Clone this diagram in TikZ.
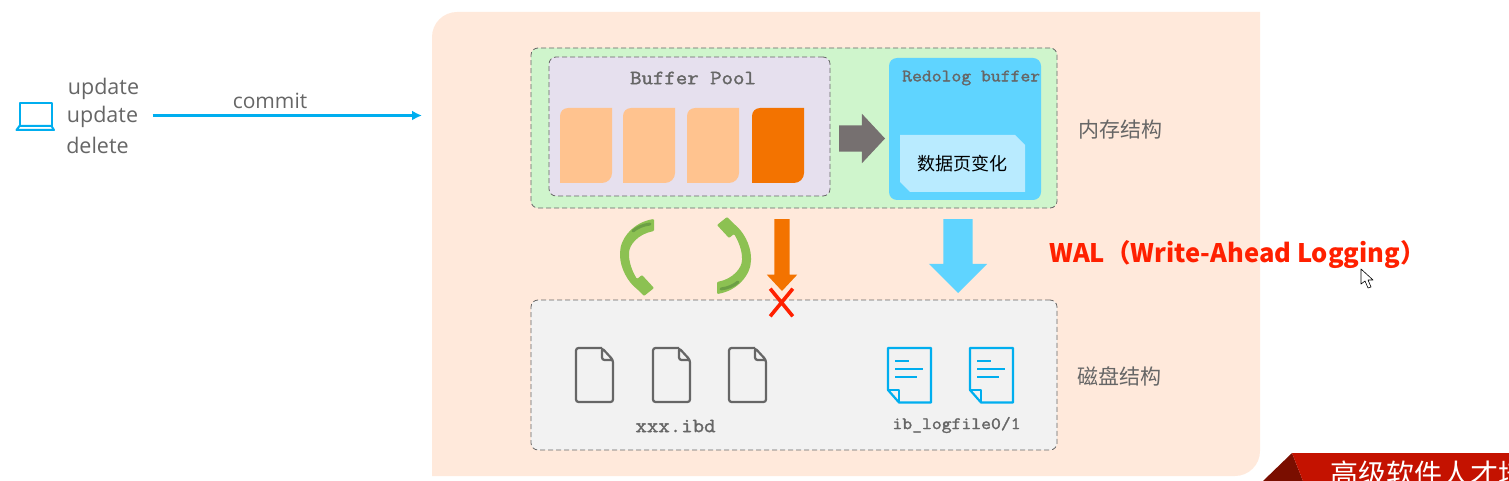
\documentclass[tikz,border=0pt]{standalone}
\usepackage{xcolor}
\usepackage{fontspec}
\usepackage{tikz}
\setmainfont{Open Sans}
\newfontfamily\cjkfont{Noto Sans CJK SC}
\newfontfamily\slabfont[AutoFakeBold=1.6,FakeStretch=1.1]{Latin Modern Mono}
\usetikzlibrary{shapes, shapes.misc, shapes.arrows, arrows.meta, positioning}

\definecolor{peach}{HTML}{FFE9DB}
\definecolor{memgreen}{HTML}{CFF5CC}
\definecolor{poolpurple}{HTML}{E6E0EE}
\definecolor{pagepale}{HTML}{FFC38F}
\definecolor{pagedeep}{HTML}{F37300}
\definecolor{arrowgrey}{HTML}{767070}
\definecolor{logblue}{HTML}{5FD4FF}
\definecolor{logpale}{HTML}{B9EBFF}
\definecolor{linkblue}{HTML}{00AEEF}
\definecolor{turngreen}{HTML}{8CC152}
\definecolor{turndark}{HTML}{6C9F45}
\definecolor{textgrey}{HTML}{666666}
\definecolor{alertred}{HTML}{FF2000}
\definecolor{bannerred}{HTML}{C41200}
\definecolor{bannerdark}{HTML}{7A0E00}

\tikzset{
  dashbox/.style={draw=textgrey,dash pattern=on 5pt off 3pt,rounded corners=7pt,line width=0.8pt,inner sep=0pt},
  blockarrow/.style={single arrow,inner xsep=0pt,outer sep=0pt,anchor=tip,rotate=-90},
  sidelabel/.style={font=\cjkfont\fontsize{21}{25}\selectfont,text=textgrey},
  cmdlabel/.style={font=\fontsize{21.5}{26}\selectfont,text=textgrey},
  slablabel/.style={font=\slabfont\bfseries\fontsize{20.2}{23}\selectfont,text=textgrey},
  thinslab/.style={font=\slabfont\bfseries\fontsize{17.4}{20}\selectfont,text=textgrey}
}

% one green half turn, head at the bottom
\newcommand{\greenturn}{
  \fill[turngreen,rounded corners=1pt] (654,219) .. controls (634,222) and (620,238) .. (620,254)
    .. controls (620,268) and (628,282) .. (637,289) -- (644,296) -- (654,288)
    -- (642,275) -- (637,279) .. controls (632,271) and (629,262) .. (629,254)
    .. controls (629,245) and (638,234) .. (654,231) -- cycle;
  \draw[turndark,line width=3pt,line cap=round] (633,231) .. controls (638,227) and (643,225) .. (650,224);
}

\begin{document}
\begin{tikzpicture}[x=1pt,y=-1pt]
  \useasboundingbox (0,0) rectangle (1509,481);

  % background panel
  \fill[peach] (432,476) [rounded corners=25pt] -- (432,12) [sharp corners] -- (1260,12)
    [rounded corners=25pt] -- (1260,476) [sharp corners] -- cycle;

  % left side
  \draw[linkblue,line width=2pt,line join=round] (19.5,126) -- (19.5,103) -- (51.5,103) -- (51.5,126);
  \draw[linkblue,line width=2pt,line join=round] (19.5,126) -- (51.5,126) -- (54,130) -- (16.5,130) -- cycle;
  \node[cmdlabel] (upa) at (103.5,89) {update};
  \node[cmdlabel] (upb) at (102.5,117) {update};
  \node[cmdlabel] (del) at (97.5,145.5) {delete};
  \coordinate (commitend) at (422,115.5);
  \draw[linkblue,line width=3pt,-{Latex[length=10pt,width=10pt]}] (upb.east) ++(11,-1.5) -- (commitend);
  \node[cmdlabel,font=\fontsize{21}{25}\selectfont] (commit) at (270,101) {commit};

  % memory
  \node[dashbox,fill=memgreen,minimum width=526pt,minimum height=160pt] (memory) at (794,128) {};
  \node[dashbox,fill=poolpurple,minimum width=281pt,minimum height=139pt] (pool) at (689.5,126.5) {};
  \node[slablabel] (pooltitle) at (693,78) {Buffer Pool};
  \foreach \x/\c in {560/pagepale,623/pagepale,687/pagepale,752/pagedeep} {
    \fill[\c] (\x,183) [rounded corners=8pt] -- (\x,108) [sharp corners] -- (\x+52,108)
      [rounded corners=10pt] -- (\x+52,183) [sharp corners] -- cycle;
  }
  \node[fill=logblue,rounded corners=8pt,minimum width=152pt,minimum height=142pt,inner sep=0pt] (redo) at (965,129) {};
  \node[thinslab,anchor=west,inner sep=0pt] (redotitle) at (902,78) {Redolog buffer};
  \fill[logpale] (900,135) -- (1015,135) -- (1025,145) -- (1025,192) -- (910,192) -- (900,182) -- cycle;
  \node[font=\cjkfont\fontsize{18}{21}\selectfont,text=black] (pagechange) at (962,164) {数据页变化};
  \node[blockarrow,rotate=90,fill=arrowgrey,inner ysep=13pt,minimum height=46pt,
    single arrow head extend=11.5pt,single arrow tip angle=94] (poolredo) at (885,138.5) {};

  % disk
  \node[dashbox,fill=black!5,minimum width=526pt,minimum height=150pt] (disk) at (794,375) {};
  \foreach \x in {576,653,729} {
    \draw[textgrey,line width=2.2pt,rounded corners=2.5pt] (\x+26,348) -- (\x,348) -- (\x,402) -- (\x+37,402) -- (\x+37,360) -- (\x+26,348) -- (\x+26,360) -- (\x+37,360);
  }
  \foreach \x in {888,970} {
    \draw[linkblue,line width=2.2pt,line join=round] (\x,348) -- (\x+43,348) -- (\x+43,402.5) -- (\x+11,402.5) -- (\x,390) -- cycle;
    \draw[linkblue,line width=2.2pt,line join=round] (\x,390) -- (\x+11,390) -- (\x+11,402.5);
    \draw[linkblue,line width=2.2pt] (\x+7,361) -- (\x+21,361);
    \draw[linkblue,line width=2.2pt] (\x+7,369) -- (\x+35,369);
    \draw[linkblue,line width=2.2pt] (\x+7,377) -- (\x+29,377);
  }
  \node[slablabel] (ibd) at (675.5,426) {xxx.ibd};
  \node[thinslab] (logfile) at (956.5,425) {ib\_logfile0/1};

  % between the two
  \greenturn
  \begin{scope}[rotate around={180:(685.5,256.5)}]
    \greenturn
  \end{scope}
  \node[blockarrow,fill=pagedeep,inner ysep=7.5pt,minimum height=72pt,
    single arrow head extend=7.5pt,single arrow tip angle=86] (flushpage) at (782,291) {};
  \node[blockarrow,fill=logblue,inner ysep=14.5pt,minimum height=74pt,
    single arrow head extend=14.5pt,single arrow tip angle=90] (flushlog) at (958,293) {};
  \node[cross out,draw=alertred,line width=3.6pt,minimum width=19pt,minimum height=24pt,inner sep=0pt] (nowrite) at (781.5,302.5) {};

  % labels on the right
  \node[sidelabel] (memlabel) at (1120,130) {内存结构};
  \node[sidelabel] (disklabel) at (1119,376) {磁盘结构};
  \node[font=\cjkfont\bfseries\fontsize{25.5}{30}\selectfont,text=alertred,anchor=west,inner sep=0pt] (wal) at (1049,254.5) {WAL（Write-Ahead Logging）};

  % mouse pointer
  \draw[black,fill=white,line width=0.6pt,line join=round] (1361,269) -- (1361,284) -- (1365,281) -- (1368,288) -- (1371,287) -- (1368,280) -- (1373,280) -- cycle;

  % banner cut by the edge
  \begin{scope}
    \clip (0,0) rectangle (1509,481);
    \fill[bannerdark] (1263,481) -- (1292,453) -- (1303,481) -- cycle;
    \fill[bannerred] (1292,453) -- (1509,453) -- (1509,481) -- (1303,481) -- cycle;
    \node[font=\cjkfont\fontsize{28}{32}\selectfont,text=white,anchor=west,inner sep=0pt] (banner) at (1330,474) {高级软件人才培};
  \end{scope}
\end{tikzpicture}
\end{document}
